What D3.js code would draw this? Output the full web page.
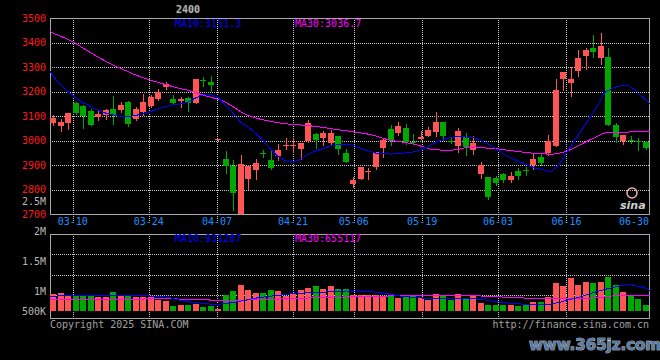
<!DOCTYPE html>
<html><head><meta charset="utf-8">
<script src="https://cdn.jsdelivr.net/npm/d3@7/dist/d3.min.js"></script>
<style>html,body{margin:0;padding:0;background:#000;}svg{display:block}</style>
</head><body><svg id="c" width="660" height="360"></svg>
<script>
// ---------------- DATA ----------------
const dates = ["03-05","03-06","03-07","03-10","03-11","03-12","03-13","03-14","03-17","03-18","03-19","03-20","03-21","03-24","03-25","03-26","03-27","03-28","03-31",
"04-01","04-02","04-03","04-07","04-08","04-09","04-10","04-11","04-14","04-15","04-16","04-17","04-18","04-21","04-22","04-23","04-24","04-25","04-28","04-29","04-30",
"05-06","05-07","05-08","05-09","05-12","05-13","05-14","05-15","05-16","05-19","05-20","05-21","05-22","05-23","05-26","05-27","05-28","05-29","05-30",
"06-03","06-04","06-05","06-06","06-09","06-10","06-11","06-12","06-13","06-16","06-17","06-18","06-19","06-20","06-23","06-24","06-25","06-26","06-27","06-30","07-01"];

const open  = [3072,3061,3072,3154,3141,3121,3097,3105,3129,3125,3158,3088,3117,3141,3170,3219,3170,3162,3174,3155,3246,3241,3004,2925,2896,2702,2843,2880,2951,2921,
2937,2980,2979,2966,2998,3027,3010,2990,3018,2949,2823,2843,2872,2893,2970,3048,3031,3052,2994,3006,3018,3035,3076,3000,2978,3014,2962,2863,2851,2847,
2864,2839,2876,2878,2900,2933,2949,2978,3252,3235,3284,3346,3379,3338,3342,3064,2998,3004,3000,2994];
const high  = [3105,3087,3113,3158,3145,3129,3125,3129,3182,3158,3162,3137,3190,3186,3211,3240,3186,3178,3178,3252,3258,3264,3006,2958,2921,2941,2900,2925,2962,2962,
2986,3010,3010,2990,3084,3031,3039,3043,3018,2966,2851,2892,2888,2955,3008,3064,3076,3068,3027,3039,3056,3117,3076,3014,3051,3031,3018,2913,2851,2855,
2868,2872,2888,2892,2949,2945,3023,3252,3280,3301,3371,3379,3432,3440,3379,3072,3023,3018,3010,2998];
const low   = [3064,3040,3049,3110,3053,3064,3084,3088,3068,3117,3060,3084,3105,3137,3166,3211,3154,3137,3121,3155,3224,3204,3004,2868,2716,2700,2802,2843,2933,2884,
2921,2966,2954,2925,2994,2970,2982,2986,2945,2913,2810,2843,2844,2883,2934,2982,3023,2986,2986,3006,3018,3018,3002,2990,2954,2941,2945,2847,2762,2819,
2831,2831,2843,2859,2884,2900,2941,2978,3207,3182,3264,3293,3342,3313,3064,2994,2986,2990,2962,2966];
const close = [3094,3077,3113,3113,3101,3064,3109,3125,3105,3145,3068,3129,3158,3178,3199,3231,3154,3170,3154,3252,3243,3229,3006,2896,2786,2904,2896,2908,2949,2888,
2962,2983,2983,2990,3072,3002,3031,3031,2966,2913,2839,2892,2876,2952,3001,3002,3060,2994,2990,3014,3043,3076,3018,2998,3039,2974,2990,2900,2770,2828,
2839,2855,2855,2876,2925,2908,2998,3207,3280,3252,3338,3371,3362,3387,3064,3014,3023,3002,2998,2970];

const ma10 = [3282,3240,3210,3185,3160,3145,3128,3115,3108,3100,3098,3101,3108,3115,3127,3137,3145,3150,3155,3172,3186,3189,3180,3148,3115,3078,3057,3032,3003,2967,
2936,2918,2912,2923,2944,2958,2968,2979,2984,2986,2980,2967,2957,2948,2946,2945,2947,2950,2954,2965,2980,2996,3006,3014,3016,3014,3010,2997,2981,2961,
2940,2925,2911,2899,2886,2880,2874,2900,2950,2996,3043,3090,3138,3196,3214,3223,3227,3208,3178,3151.3];
const ma30 = [3445,3432,3419,3404,3385,3366,3347,3330,3314,3299,3286,3272,3260,3249,3240,3231,3222,3214,3207,3198,3187,3179,3170,3159,3141,3120,3104,3093,3085,3079,
3073,3069,3066,3064,3061,3058,3054,3049,3044,3040,3036,3031,3026,3018,3008,3000,2996,2991,2985,2976,2966,2962,2961,2961,2966,2973,2974,2971,2968,2966,
2962,2958,2954,2950,2948,2946,2944,2948,2956,2970,2986,3002,3016,3031,3034,3035,3035,3036,3036,3036.7];

const volume = [950000,966700,916700,933300,933300,933300,900000,900000,983300,916700,916700,900000,900000,900000,850000,833300,750000,766700,766700,783300,
733300,750000,700000,933300,1000000,1100000,1016700,966700,966700,1016700,1000000,916700,950000,1016700,1050000,1083300,1033300,1083300,1033300,1033300,
933300,933300,933300,933300,916700,933300,883300,900000,916700,883300,850000,950000,933300,850000,950000,883300,916700,800000,766700,766700,
766700,766700,750000,783300,816700,816700,900000,1133300,1083300,1216700,1100000,1150000,1133300,1150000,1233300,1100000,983300,916700,866700,766700];
const volMa10 = [911700,916700,916700,916700,916700,916700,916700,916700,916700,916700,916700,916700,916700,916700,908000,900000,883000,850000,825000,808000,
795000,783000,778000,788000,807000,828000,853000,880000,897000,913000,928000,942000,958000,965000,968000,972000,980000,990000,997000,1000000,
997000,993000,990000,980000,963000,940000,918000,905000,893000,883000,875000,872000,870000,867000,867000,867000,867000,857000,837000,818000,
803000,793000,783000,777000,772000,767000,783000,808000,843000,875000,908000,950000,990000,1025000,1055000,1087000,1108000,1090000,1067000,1012000];
const volMa30 = [858000,858000,858000,858000,858000,858000,858000,858000,858000,858000,858000,858000,858000,883000,883000,883000,883000,862000,862000,862000,
862000,850000,850000,850000,850000,850000,850000,862000,862000,862000,862000,883000,883000,883000,883000,900000,900000,900000,900000,900000,
913000,913000,913000,913000,913000,920000,920000,920000,920000,933000,933000,933000,933000,933000,928000,928000,928000,912000,912000,912000,
888000,888000,888000,875000,875000,875000,867000,867000,867000,867000,878000,878000,900000,900000,917000,917000,917000,917000,917000,917000];

const priceTicks = [3500,3400,3300,3200,3100,3000,2900,2800,2700];
const volTicks = [2500000,2000000,1500000,1000000,500000];
const volTickLabels = ["2.5M","2M","1.5M","1M","500K"];
const dateTicks = ["03-10","03-24","04-07","04-21","05-06","05-19","06-03","06-16","06-30"];
const titleText = "2400";
const priceMaLabels = ["MA10:3151.3","MA30:3036.7"];
const volMaLabels = ["MA10:931287","MA30:655117"];

// ---------------- DRAW ----------------
const svg = d3.select("#c");
const FONT = "'DejaVu Sans Mono', monospace";
const L = 50, R = 649;
const pTop = 18, pBot = 214, vTop = 234, vBot = 318, vBase = 311;
const UP = "#ff5555", DOWN = "#00a800", GRID = "#c8c8c8", FRAME = "#a8a8a8";

svg.append("rect").attr("width",660).attr("height",360).attr("fill","#000");

const y = d3.scaleLinear().domain([2700,3500]).range([pBot, pTop + 0.3]);
const vy = d3.scaleLinear().domain([666667, 2500000]).range([vBase, 201]).clamp(true);
const xb = d3.scaleBand().domain(d3.range(dates.length)).range([49.25, 649.25]).paddingInner(0.2).paddingOuter(0.1);
const gx = d3.scaleLinear().domain([0, dates.length - 1]).range([L, 650]);
const cx = i => Math.round(xb(i)) + 3;

const tickIdx = dateTicks.map(d => dates.indexOf(d));

// grids
const g = svg.append("g").attr("stroke", GRID).attr("stroke-dasharray","1,1").attr("stroke-width",1);
priceTicks.slice(1, -1).forEach(v => {
  const yy = Math.round(y(v)) + 0.5;
  g.append("line").attr("x1", L).attr("x2", R).attr("y1", yy).attr("y2", yy);
});
[1,2,3].forEach(k => {
  const yy = Math.round(vTop + k * 20.3) + 0.5;
  g.append("line").attr("x1", L).attr("x2", R).attr("y1", yy).attr("y2", yy);
});
tickIdx.slice(0, -1).forEach(i => {
  const xx = Math.round(gx(i)) + 0.5;
  g.append("line").attr("x1", xx).attr("x2", xx).attr("y1", pTop).attr("y2", pBot + 7);
  g.append("line").attr("x1", xx).attr("x2", xx).attr("y1", vTop).attr("y2", vBot + 2);
});

// frames
[[pTop, pBot], [vTop, vBot]].forEach(([t, b]) => {
  svg.append("rect").attr("x", L + 0.5).attr("y", t + 0.5).attr("width", R - L).attr("height", b - t)
    .attr("fill","none").attr("stroke", FRAME).attr("stroke-width", 1);
});

// candles
const cg = svg.append("g").attr("shape-rendering","crispEdges");
dates.forEach((d, i) => {
  const up = close[i] >= open[i];
  const col = up ? UP : DOWN;
  const xc = cx(i) + 0.5;
  cg.append("line").attr("x1", xc).attr("x2", xc)
    .attr("y1", Math.round(y(high[i]))).attr("y2", Math.round(y(low[i])) + 1)
    .attr("stroke", col).attr("stroke-width", 1);
  const y1 = Math.round(y(Math.max(open[i], close[i])));
  const y2 = Math.round(y(Math.min(open[i], close[i])));
  cg.append("rect").attr("x", Math.round(xb(i))).attr("width", 6)
    .attr("y", y1).attr("height", Math.max(1, y2 - y1)).attr("fill", col);
});

// volume bars
const vg = svg.append("g").attr("shape-rendering","crispEdges");
dates.forEach((d, i) => {
  const up = close[i] >= open[i];
  const top = Math.round(vy(volume[i]));
  vg.append("rect").attr("x", Math.round(xb(i))).attr("width", 6)
    .attr("y", top).attr("height", vBase - top).attr("fill", up ? UP : DOWN);
});

// MA lines
const priceLine = arr => d3.line().x((v, i) => gx(i)).y(v => y(v))(arr);
const volLine = arr => d3.line().x((v, i) => gx(i)).y(v => vy(v))(arr);
const lg = svg.append("g").attr("fill","none").attr("stroke-width",1).attr("shape-rendering","crispEdges");
lg.append("path").attr("d", priceLine(ma30)).attr("stroke","#ff00ff");
lg.append("path").attr("d", priceLine(ma10)).attr("stroke","#0000ff");
lg.append("path").attr("d", volLine(volMa30)).attr("stroke","#ff00ff");
lg.append("path").attr("d", volLine(volMa10)).attr("stroke","#0000ff");

// text helpers
const txt = (x, yy, s, fill, anchor) => svg.append("text").attr("x", x).attr("y", yy)
  .attr("font-family", FONT).attr("font-size", 10).attr("fill", fill)
  .attr("text-anchor", anchor || "start").attr("dominant-baseline","central").text(s);

// price axis labels
priceTicks.forEach(v => txt(46, y(v), String(v), "#ff1a1a", "end"));
// volume axis labels
volTicks.forEach((v, k) => txt(46, vy(v), volTickLabels[k], "#b8b8b8", "end"));
// date labels
tickIdx.forEach((i, k) => {
  const last = k === tickIdx.length - 1;
  txt(last ? 649 : gx(i), 221.5, dateTicks[k], "#1e8fff", last ? "end" : "middle");
});

// MA labels
txt(175, 23, priceMaLabels[0], "#0000ff");
txt(295, 23, priceMaLabels[1], "#ff00ff");
txt(175, 238.5, volMaLabels[0], "#0000ff");
txt(295, 238.5, volMaLabels[1], "#ff00ff");

// title
svg.append("text").attr("x", 188).attr("y", 9).attr("text-anchor","middle").attr("dominant-baseline","central")
  .attr("font-family", FONT).attr("font-size", 10).attr("font-weight","bold")
  .attr("fill", "#d8d8d8").attr("stroke", "#555").attr("stroke-width", 0.4).text(titleText);

// footer
txt(50, 324, "Copyright 2025 SINA.COM", "#a0a0a0");
txt(649, 324, "http://finance.sina.com.cn", "#a0a0a0", "end");

// sina watermark
svg.append("circle").attr("cx", 632).attr("cy", 193).attr("r", 5).attr("fill","none").attr("stroke","#f0b0b0").attr("stroke-width",1.5);
svg.append("text").attr("x", 620).attr("y", 205).attr("font-family","'DejaVu Sans', sans-serif").attr("font-size", 11)
  .attr("font-weight","bold").attr("font-style","italic").attr("fill","#d0d0d0").attr("dominant-baseline","central").text("sina");

// site watermark
svg.append("text").attr("x", 595).attr("y", 345).attr("text-anchor","middle").attr("dominant-baseline","central")
  .attr("font-family","'DejaVu Sans', sans-serif").attr("font-size", 15).attr("font-weight","bold")
  .attr("fill","#5a7aa0").attr("stroke","#e8eef8").attr("stroke-width",0.7).attr("paint-order","stroke")
  .text("www.365jz.com");
</script></body></html>
